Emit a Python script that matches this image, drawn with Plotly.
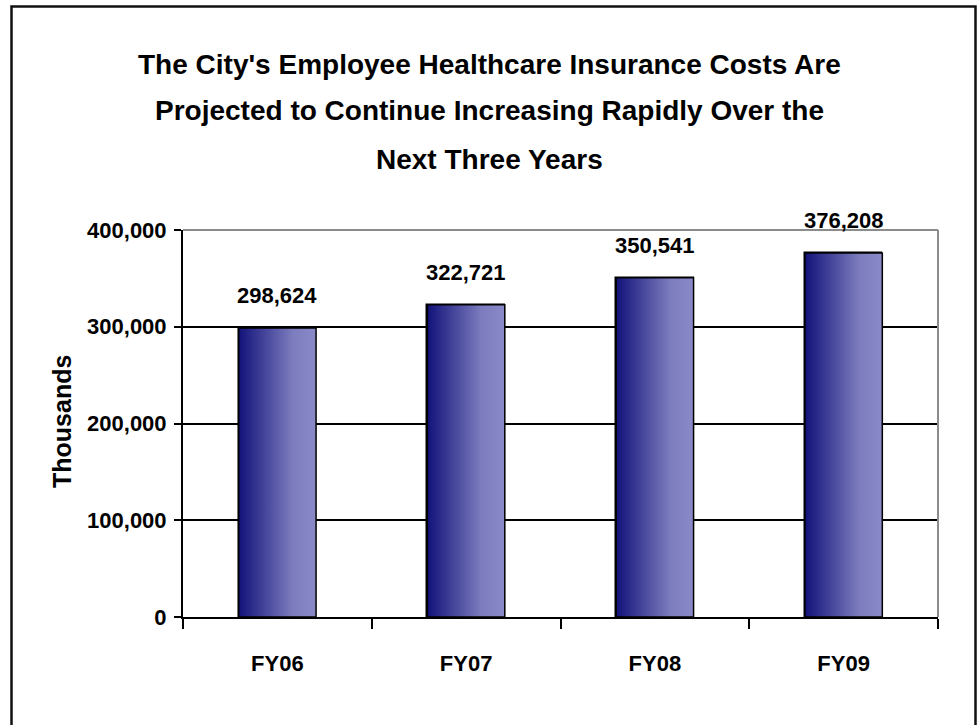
import plotly.graph_objects as go

# chart data
years = ["FY06", "FY07", "FY08", "FY09"]
costs = [298624, 322721, 350541, 376208]  # thousands
y_ticks = [0, 100000, 200000, 300000, 400000]

title_lines = [
    "The City's Employee Healthcare Insurance Costs Are",
    "Projected to Continue Increasing Rapidly Over the",
    "Next Three Years",
]

FONT = "Arial, 'Liberation Sans', sans-serif"
BAR_W = 0.41
gradient = [[0, "#12127a"], [0.7, "#7c7cbe"], [1, "#8a8ac9"]]

# plot area in page pixels
W, H = 978, 725
L, T = 183, 230
R, B = W - 938, H - 617
pw, ph = W - L - R, H - T - B


def px_x(p):
    return (p - L) / pw


def px_y(p):
    return (H - B - p) / ph


fig = go.Figure()

xs = list(range(len(years)))

# plain bars underneath (fallback colour)
fig.add_trace(go.Bar(
    x=xs, y=costs, width=BAR_W,
    marker=dict(color="#5c5ca8", line=dict(color="black", width=1.5)),
    hoverinfo="x+y", showlegend=False,
))

# gradient-filled outlines on top of each bar
for i, v in zip(xs, costs):
    x0, x1 = i - BAR_W / 2, i + BAR_W / 2
    fig.add_trace(go.Scatter(
        x=[x0, x1, x1, x0, x0], y=[0, 0, v, v, 0],
        mode="lines", fill="toself",
        fillgradient=dict(type="horizontal", colorscale=gradient),
        line=dict(color="black", width=1.5),
        hoverinfo="skip", showlegend=False,
    ))

# value labels above bars
for i, v in zip(xs, costs):
    fig.add_annotation(
        x=i, y=v, text=f"{v:,}", showarrow=False,
        yanchor="bottom", yshift=18,
        font=dict(family=FONT, size=22, color="black", weight="bold"),
    )

# title lines, centred on the page
for line, yc in zip(title_lines, [64, 111, 159]):
    fig.add_annotation(
        xref="paper", yref="paper", x=px_x(489), y=px_y(yc),
        xanchor="center", yanchor="middle",
        text=line, showarrow=False,
        font=dict(family=FONT, size=28, color="black", weight="bold"),
    )

# y axis title
fig.add_annotation(
    xref="paper", yref="paper", x=px_x(62), y=px_y(422),
    xanchor="center", yanchor="middle", textangle=-90,
    text="Thousands", showarrow=False,
    font=dict(family=FONT, size=25, color="black", weight="bold"),
)

# grey top/right border of the plot area
fig.add_shape(type="line", xref="paper", yref="paper", x0=0, x1=1, y0=1, y1=1,
              line=dict(color="#8c8c8c", width=2), layer="above")
fig.add_shape(type="line", xref="paper", yref="paper", x0=1, x1=1, y0=0, y1=1,
              line=dict(color="#8c8c8c", width=2), layer="above")

# outer frame (bottom edge runs off the page)
fig.add_shape(type="rect", xref="paper", yref="paper",
              x0=px_x(11.5), x1=px_x(975.5), y0=px_y(745), y1=px_y(6.5),
              line=dict(color="#111111", width=2.5), fillcolor="rgba(0,0,0,0)")

fig.update_layout(
    width=W, height=H,
    margin=dict(l=L, r=R, t=T, b=B, autoexpand=False),
    paper_bgcolor="white", plot_bgcolor="white",
    font=dict(family=FONT, size=22, color="black"),
    bargap=0,
)

fig.update_xaxes(
    range=[-0.5, len(years) - 0.5], tickmode="array", tickvals=xs, ticktext=years,
    tickfont=dict(family=FONT, size=22, color="black", weight="bold"),
    ticks="", ticklabelstandoff=26,
    minor=dict(tickmode="array", tickvals=[i - 0.5 for i in range(len(years) + 1)],
               ticks="outside", ticklen=10, tickwidth=2, tickcolor="black", showgrid=False),
    showline=True, linecolor="black", linewidth=2,
    showgrid=False, zeroline=False, fixedrange=True,
)

fig.update_yaxes(
    range=[0, 400000], tickmode="array", tickvals=y_ticks,
    tickformat=",", tickfont=dict(family=FONT, size=22, color="black", weight="bold"),
    ticks="outside", ticklen=7, tickwidth=2, tickcolor="black", ticklabelstandoff=3,
    showline=True, linecolor="black", linewidth=2,
    showgrid=True, gridcolor="black", gridwidth=2,
    zeroline=False, fixedrange=True,
)

# drop the browser's default body margin so the figure fills the window
fig.write_html("out.html", config={"displayModeBar": False},
               post_script="document.body.style.margin = '0';")
